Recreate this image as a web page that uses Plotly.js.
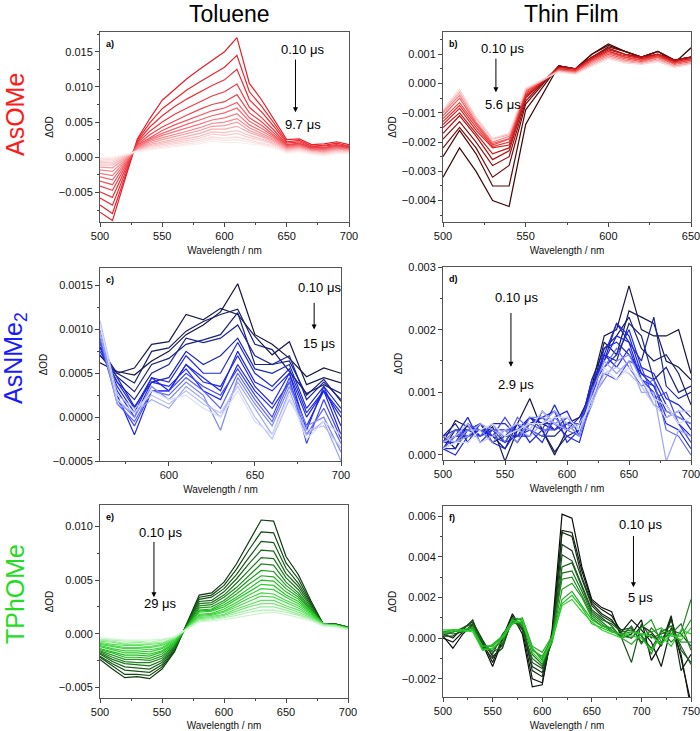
<!DOCTYPE html>
<html>
<head>
<meta charset="utf-8">
<script src="https://cdn.plot.ly/plotly-3.0.1.min.js"></script>
<style>
  html, body { margin: 0; padding: 0; background: #ffffff; }
  #chart { width: 700px; height: 731px; }
</style>
</head>
<body>
<div id="chart"></div>
<script>
// ---------- Transient absorption spectra (ΔOD vs wavelength) ----------

// a) AsOMe in toluene, 0.10 µs -> 9.7 µs
const wlTolAsOMe = [500,510,530,540,550,560,570,580,590,600,610,620,630,640,650,660,670,680,690,700];
const odTolAsOMe = [
  [-0.0078,-0.0090,0.0026,0.0055,0.0081,0.0097,0.0112,0.0125,0.0138,0.0150,0.0170,0.0105,0.0081,0.0053,0.0025,0.0026,0.0018,0.0019,0.0022,0.0018],
  [-0.0068,-0.0080,0.0024,0.0049,0.0069,0.0083,0.0096,0.0107,0.0118,0.0128,0.0145,0.0093,0.0072,0.0048,0.0022,0.0024,0.0016,0.0017,0.0020,0.0016],
  [-0.0058,-0.0068,0.0022,0.0043,0.0059,0.0072,0.0083,0.0093,0.0102,0.0110,0.0125,0.0082,0.0064,0.0043,0.0020,0.0022,0.0015,0.0016,0.0018,0.0015],
  [-0.0049,-0.0057,0.0020,0.0037,0.0050,0.0061,0.0070,0.0079,0.0087,0.0093,0.0104,0.0071,0.0056,0.0038,0.0018,0.0020,0.0014,0.0014,0.0017,0.0014],
  [-0.0041,-0.0047,0.0018,0.0032,0.0043,0.0052,0.0060,0.0068,0.0075,0.0079,0.0089,0.0063,0.0050,0.0034,0.0017,0.0019,0.0013,0.0013,0.0016,0.0013],
  [-0.0034,-0.0039,0.0017,0.0028,0.0038,0.0046,0.0053,0.0060,0.0066,0.0070,0.0078,0.0056,0.0045,0.0031,0.0016,0.0018,0.0012,0.0012,0.0015,0.0012],
  [-0.0028,-0.0032,0.0015,0.0026,0.0034,0.0041,0.0047,0.0053,0.0059,0.0063,0.0070,0.0051,0.0041,0.0029,0.0015,0.0017,0.0011,0.0011,0.0014,0.0012],
  [-0.0023,-0.0026,0.0014,0.0024,0.0031,0.0036,0.0042,0.0047,0.0053,0.0056,0.0062,0.0046,0.0037,0.0027,0.0014,0.0016,0.0010,0.0010,0.0013,0.0011],
  [-0.0018,-0.0020,0.0012,0.0022,0.0028,0.0032,0.0037,0.0042,0.0048,0.0050,0.0055,0.0042,0.0034,0.0025,0.0013,0.0015,0.0010,0.0009,0.0012,0.0010],
  [-0.0014,-0.0015,0.0011,0.0020,0.0025,0.0029,0.0033,0.0038,0.0044,0.0045,0.0050,0.0038,0.0031,0.0023,0.0012,0.0014,0.0009,0.0008,0.0011,0.0010],
  [-0.0011,-0.0011,0.0010,0.0018,0.0022,0.0026,0.0030,0.0034,0.0040,0.0040,0.0044,0.0035,0.0029,0.0021,0.0011,0.0013,0.0008,0.0007,0.0010,0.0009],
  [-0.0008,-0.0008,0.0010,0.0016,0.0020,0.0023,0.0027,0.0030,0.0036,0.0035,0.0038,0.0031,0.0026,0.0019,0.0010,0.0012,0.0008,0.0006,0.0009,0.0008],
  [-0.0006,-0.0005,0.0009,0.0015,0.0018,0.0021,0.0024,0.0027,0.0033,0.0031,0.0034,0.0028,0.0024,0.0018,0.0009,0.0011,0.0007,0.0005,0.0008,0.0007],
  [-0.0004,-0.0003,0.0009,0.0013,0.0016,0.0019,0.0021,0.0024,0.0029,0.0027,0.0029,0.0025,0.0021,0.0016,0.0008,0.0010,0.0006,0.0004,0.0007,0.0007],
  [-0.0002,-0.0001,0.0008,0.0012,0.0014,0.0017,0.0019,0.0021,0.0026,0.0024,0.0025,0.0022,0.0019,0.0015,0.0007,0.0009,0.0005,0.0003,0.0006,0.0006],
  [-0.0001,0.0000,0.0008,0.0011,0.0013,0.0015,0.0017,0.0019,0.0023,0.0021,0.0021,0.0019,0.0017,0.0013,0.0006,0.0008,0.0004,0.0002,0.0005,0.0005]
];
const delaysTolAsOMe = ['0.10 μs', '9.7 μs'];

// b) AsOMe thin film, 0.10 µs -> 5.6 µs
const wlFilmAsOMe = [500,510,520,530,540,550,570,580,590,600,610,620,630,640,650];
const odFilmAsOMe = [
  [-0.0032,-0.0022,-0.0030,-0.0040,-0.0042,-0.0014,0.0006,0.0005,0.0010,0.00135,0.0011,0.0009,0.0011,0.0007,0.00122],
  [-0.0025,-0.0016,-0.0024,-0.0035,-0.0035,-0.0009,0.0006,0.0005,0.0010,0.0013,0.0011,0.0009,0.0011,0.0008,0.0009],
  [-0.0022,-0.0015,-0.0022,-0.0032,-0.0028,-0.0007,0.0006,0.0005,0.0009,0.00125,0.0011,0.0009,0.0011,0.0008,0.0009],
  [-0.0019,-0.0013,-0.0020,-0.0028,-0.0025,-0.0006,0.0006,0.0005,0.0009,0.0012,0.0010,0.0009,0.0010,0.0008,0.0009],
  [-0.0017,-0.0011,-0.0018,-0.0026,-0.0023,-0.0005,0.00055,0.0005,0.0009,0.0012,0.0010,0.0009,0.0010,0.0008,0.0009],
  [-0.0015,-0.0010,-0.0017,-0.0024,-0.0022,-0.00045,0.00055,0.0005,0.00085,0.00115,0.0010,0.00085,0.0010,0.00075,0.00085],
  [-0.0014,-0.00085,-0.0016,-0.0022,-0.0021,-0.0004,0.0005,0.00045,0.00085,0.0011,0.00095,0.00085,0.00095,0.00075,0.00085],
  [-0.0013,-0.00075,-0.0015,-0.00215,-0.0020,-0.00035,0.0005,0.00045,0.0008,0.0011,0.0009,0.0008,0.00095,0.0007,0.0008],
  [-0.0012,-0.00065,-0.0014,-0.0021,-0.0019,-0.0003,0.00048,0.0004,0.0008,0.00105,0.0009,0.0008,0.0009,0.0007,0.0008],
  [-0.0011,-0.0005,-0.00135,-0.00205,-0.00188,-0.00026,0.00046,0.0004,0.00075,0.0010,0.00085,0.00075,0.0009,0.00065,0.00075],
  [-0.0010,-0.0004,-0.0013,-0.0020,-0.0018,-0.00023,0.00044,0.00038,0.0007,0.00095,0.0008,0.0007,0.00085,0.0006,0.0007],
  [-0.00095,-0.0003,-0.0012,-0.0019,-0.00175,-0.0002,0.00042,0.00035,0.00065,0.0009,0.00075,0.0007,0.0008,0.0006,0.0007],
  [-0.0009,-0.0002,-0.00115,-0.00188,-0.0017,-0.00017,0.0004,0.00032,0.0006,0.00085,0.0007,0.00065,0.00075,0.00055,0.00065]
];
const delaysFilmAsOMe = ['0.10 μs', '5.6 μs'];

// c) AsNMe2 in toluene, 0.10 µs -> 15 µs
const wlTolAsNMe2 = [560,570,580,590,600,610,620,630,640,650,660,670,680,690,700];
const odTolAsNMe2 = [
  [0.00062,0.00052,0.00048,0.00064,0.00075,0.00094,0.00105,0.0012,0.00152,0.00094,0.00083,0.00067,0.00046,0.00056,0.0005],
  [0.00070,0.00050,0.00056,0.00083,0.00086,0.00117,0.00111,0.00124,0.00117,0.00092,0.00071,0.00086,0.00037,0.00045,0.00039],
  [0.00079,0.00050,0.00039,0.00075,0.00079,0.00098,0.00109,0.00117,0.00123,0.00083,0.00077,0.00052,0.00027,0.00037,0.00027],
  [0.00071,0.00046,0.00029,0.00060,0.00067,0.00083,0.00088,0.00094,0.00119,0.00060,0.00060,0.00064,0.00025,0.00043,0.00018],
  [0.0008,0.0004,0.0002,0.0005,0.0006,0.0009,0.00085,0.0009,0.00105,0.0007,0.0006,0.0007,0.0002,0.0004,0.0002],
  [0.00085,0.00045,0.00012,0.0004,0.00045,0.00075,0.0006,0.0007,0.0009,0.00055,0.0005,0.0006,0.0001,0.00035,0.0001],
  [0.00075,0.0004,0.0001,0.00045,0.0004,0.0007,0.0005,0.0005,0.00085,0.0005,0.00035,0.00055,0.00005,0.0003,0.00005],
  [0.0008,0.00035,0.00005,0.00045,0.0003,0.0006,0.00045,0.0003,0.00075,0.0004,0.0003,0.0005,0.0000,0.0003,0.0000],
  [0.0009,0.00025,-0.0002,0.0003,0.0003,0.0006,0.0004,0.00035,0.0007,0.00035,0.00015,0.0005,-0.00015,0.00035,-0.0001],
  [0.0008,0.0003,0.0000,0.0004,0.00035,0.00055,0.0003,0.0002,0.0006,0.0003,0.0001,0.0004,-0.0001,0.0003,-0.0002],
  [0.00085,0.0002,-0.0001,0.0003,0.0003,0.0005,0.00035,0.00025,0.00055,0.00025,0.0000,0.00045,-0.0003,0.0002,-0.00025],
  [0.0009,0.00015,-0.00005,0.0003,0.00025,0.00045,0.0003,0.0001,0.0005,0.0002,-0.00005,0.0004,-0.0002,0.0001,-0.0003],
  [0.0010,0.0002,0.0000,0.00035,0.0002,0.0004,0.00025,-0.00015,0.00045,0.00015,-0.0001,0.00035,-0.0001,0.0000,-0.0004],
  [0.00095,0.00015,0.00005,0.0002,0.0001,0.00035,0.0002,0.0000,0.0004,0.0001,-0.0002,0.0003,-0.0002,-0.00005,-0.0005],
  [0.0011,0.00025,0.0001,0.00025,0.00015,0.0003,0.00015,0.00005,0.00035,0.0000,-0.00025,0.0002,-0.00015,-0.0001,-0.00035],
  [0.00105,0.0002,0.00005,0.0003,0.0002,0.00025,0.0001,0.0000,0.0003,-0.00005,-0.0002,0.00025,-0.00025,-0.00005,-0.0002]
];
const delaysTolAsNMe2 = ['0.10 μs', '15 μs'];

// d) AsNMe2 thin film, 0.10 µs -> 2.9 µs
const wlFilmAsNMe2 = [500,510,520,530,540,550,560,570,580,590,600,610,620,630,640,650,660,670,680,690,700];
const odFilmAsNMe2 = [
  [0.0002,0.00055,0.00045,0.0004,0.0003,0.0001,0.0005,0.0009,0.0004,0.0000,0.0004,0.0005,0.0011,0.0019,0.0020,0.0027,0.0020,0.0019,0.0019,0.0020,0.0013],
  [0.0003,0.0001,0.0005,0.0003,0.00045,-0.0001,0.0004,0.0006,0.0005,0.0004,0.0005,0.0006,0.0010,0.0018,0.0016,0.0023,0.0022,0.0021,0.0015,0.0014,0.0012],
  [0.0001,0.0004,0.0004,0.0005,0.0002,0.0003,0.0003,0.0006,0.0004,0.00005,0.0003,0.0004,0.0012,0.0017,0.0019,0.0022,0.0017,0.0015,0.0016,0.0013,0.0008],
  [0.0002,0.0003,0.0003,0.0004,0.0004,0.0002,0.0005,0.0004,0.0003,0.0003,0.0005,0.0003,0.0011,0.0016,0.0015,0.0021,0.0019,0.0012,0.0014,0.0010,0.0011],
  [0.0003,0.0005,0.0002,0.0005,0.0003,0.0004,0.0002,0.0005,0.0006,0.0004,0.0006,0.0004,0.0010,0.0015,0.0021,0.0018,0.0015,0.0022,0.0011,0.0009,0.0010],
  [0.0001,0.0001,0.0004,0.0003,0.0005,0.0005,0.0003,0.0003,0.0007,0.0005,0.0004,0.0006,0.0009,0.0017,0.0018,0.0016,0.0013,0.0011,0.0007,0.0006,0.0005],
  [0.0002,0.0003,0.0006,0.0002,0.0004,0.0003,0.0005,0.0002,0.0004,0.0008,0.0004,0.0005,0.0011,0.0014,0.0016,0.0020,0.0014,0.0013,0.0009,0.0008,0.0006],
  [0.0003,0.0004,0.0003,0.0004,0.0002,0.0001,0.0004,0.0005,0.0006,0.0007,0.0002,0.0004,0.0012,0.0015,0.0019,0.0018,0.0012,0.0010,0.0005,0.0004,0.0001],
  [0.0001,0.0000,0.0003,0.0004,0.0003,0.0002,0.0003,0.0004,0.0002,0.0006,0.0007,0.0003,0.0010,0.0016,0.0021,0.0019,0.0013,0.0012,0.0008,0.0005,0.0003],
  [0.0002,0.0002,0.0005,0.0003,0.0004,0.0004,0.0004,0.0006,0.0005,0.0005,0.0003,0.0002,0.0009,0.0016,0.0014,0.0017,0.0012,0.0011,0.0006,0.0007,0.0004],
  [0.0001,0.0003,0.0004,0.0005,0.0003,0.0006,0.0003,0.0005,0.0004,0.0004,0.0005,0.0005,0.0010,0.0013,0.0012,0.0015,0.0014,0.0009,0.0010,0.0005,0.0002],
  [0.0002,0.0004,0.0003,0.0003,0.0005,0.0002,0.0006,0.0004,0.0003,0.0006,0.0004,0.0003,0.0008,0.0014,0.0017,0.0014,0.0011,0.0012,0.0004,0.0003,0.0000],
  [0.0001,0.0002,0.0004,0.0004,0.0002,0.0004,0.0002,0.0006,0.0006,0.0005,0.0006,0.0004,0.0009,0.0012,0.0015,0.0016,0.0012,0.0008,0.0007,0.0006,0.0005],
  [0.0003,0.0002,0.0003,0.0005,0.0004,0.0003,0.0004,0.0003,0.0005,0.0007,0.0005,0.0003,0.0010,0.0015,0.0013,0.0015,0.0010,0.0010,-0.0001,0.0004,0.0003],
  [0.0002,0.0003,0.0005,0.0002,0.0003,0.0004,0.0005,0.0004,0.0007,0.0005,0.0004,0.0005,0.0008,0.0013,0.0014,0.0013,0.0011,0.0008,0.0006,0.0007,0.0007],
  [0.0001,0.0002,0.0002,0.0004,0.0005,0.0003,0.0004,0.0005,0.0005,0.0006,0.0006,0.0004,0.0009,0.0014,0.0012,0.0014,0.0012,0.0009,0.0008,0.0005,0.0006]
];
const delaysFilmAsNMe2 = ['0.10 μs', '2.9 μs'];

// e) TPhOMe in toluene, 0.10 µs -> 29 µs
const wlTolTPhOMe = [500,510,520,530,540,550,560,580,590,600,610,620,630,640,650,660,670,680,690,700];
const odTolTPhOMe = [
  [-0.0024,-0.0033,-0.0041,-0.0040,-0.0042,-0.0033,-0.0017,0.0036,0.0038,0.0048,0.0065,0.0085,0.0106,0.0105,0.0072,0.0055,0.0031,0.0009,0.0009,0.0006],
  [-0.0022,-0.0030,-0.0038,-0.0038,-0.0039,-0.0031,-0.0016,0.0034,0.0036,0.0045,0.0060,0.0078,0.0095,0.0094,0.0066,0.0051,0.0029,0.0009,0.0009,0.0006],
  [-0.0021,-0.0028,-0.0034,-0.0035,-0.0036,-0.0029,-0.0015,0.0032,0.0034,0.0042,0.0055,0.0071,0.0086,0.0085,0.0061,0.0047,0.0028,0.0009,0.0009,0.0006],
  [-0.0019,-0.0026,-0.0031,-0.0032,-0.0033,-0.0027,-0.0014,0.0030,0.0031,0.0039,0.0051,0.0065,0.0078,0.0077,0.0056,0.0044,0.0026,0.0009,0.0009,0.0006],
  [-0.0018,-0.0024,-0.0028,-0.0029,-0.0030,-0.0025,-0.0013,0.0028,0.0029,0.0036,0.0047,0.0059,0.0071,0.0070,0.0052,0.0041,0.0025,0.0009,0.0009,0.0006],
  [-0.0017,-0.0022,-0.0026,-0.0027,-0.0027,-0.0023,-0.0012,0.0026,0.0027,0.0034,0.0043,0.0054,0.0065,0.0064,0.0048,0.0038,0.0024,0.0009,0.0008,0.0006],
  [-0.0016,-0.0020,-0.0024,-0.0024,-0.0025,-0.0021,-0.0011,0.0024,0.0025,0.0031,0.0040,0.0050,0.0059,0.0058,0.0045,0.0036,0.0023,0.0009,0.0008,0.0006],
  [-0.0015,-0.0018,-0.0022,-0.0022,-0.0023,-0.0019,-0.0010,0.0022,0.0023,0.0029,0.0037,0.0046,0.0054,0.0053,0.0042,0.0034,0.0022,0.0009,0.0008,0.0005],
  [-0.0014,-0.0017,-0.0020,-0.0020,-0.0021,-0.0017,-0.0009,0.0021,0.0022,0.0027,0.0034,0.0042,0.0050,0.0049,0.0039,0.0032,0.0021,0.0009,0.0008,0.0005],
  [-0.0012,-0.0015,-0.0018,-0.0018,-0.0019,-0.0016,-0.0008,0.0020,0.0021,0.0025,0.0032,0.0039,0.0046,0.0045,0.0036,0.0030,0.0020,0.0009,0.0008,0.0005],
  [-0.0011,-0.0014,-0.0016,-0.0016,-0.0017,-0.0014,-0.0007,0.0018,0.0019,0.0023,0.0029,0.0036,0.0042,0.0041,0.0034,0.0028,0.0019,0.0009,0.0008,0.0005],
  [-0.0010,-0.0012,-0.0014,-0.0014,-0.0015,-0.0013,-0.0006,0.0017,0.0018,0.0021,0.0027,0.0033,0.0038,0.0037,0.0031,0.0026,0.0018,0.0009,0.0008,0.0005],
  [-0.0009,-0.0011,-0.0013,-0.0013,-0.0013,-0.0011,-0.0006,0.0016,0.0017,0.0020,0.0025,0.0030,0.0035,0.0034,0.0029,0.0024,0.0017,0.0009,0.0008,0.0005],
  [-0.0008,-0.0010,-0.0011,-0.0011,-0.0012,-0.0010,-0.0005,0.0015,0.0016,0.0018,0.0023,0.0027,0.0031,0.0031,0.0026,0.0022,0.0016,0.0008,0.0007,0.0005],
  [-0.0007,-0.0008,-0.0010,-0.0010,-0.0010,-0.0009,-0.0004,0.0014,0.0015,0.0017,0.0021,0.0025,0.0028,0.0028,0.0024,0.0020,0.0015,0.0008,0.0007,0.0004],
  [-0.0006,-0.0007,-0.0009,-0.0008,-0.0009,-0.0008,-0.0004,0.0013,0.0014,0.0016,0.0019,0.0022,0.0025,0.0025,0.0022,0.0018,0.0014,0.0008,0.0007,0.0004],
  [-0.0005,-0.0006,-0.0007,-0.0007,-0.0008,-0.0006,-0.0003,0.0012,0.0013,0.0015,0.0017,0.0020,0.0022,0.0022,0.0020,0.0017,0.0013,0.0008,0.0007,0.0004],
  [-0.0004,-0.0005,-0.0006,-0.0006,-0.0006,-0.0005,-0.0003,0.0011,0.0012,0.0013,0.0015,0.0017,0.0019,0.0020,0.0018,0.0015,0.0012,0.0007,0.0006,0.0004]
];
const delaysTolTPhOMe = ['0.10 μs', '29 μs'];

// f) TPhOMe thin film, 0.10 µs -> 5 µs
const wlFilmTPhOMe = [500,510,520,530,540,550,560,570,580,590,600,610,620,630,640,650,660,670,680,690,700,710,720,730,740,750];
const odFilmTPhOMe = [
  [0.0001,-0.0005,0.0002,0.0007,-0.0003,-0.0014,-0.0001,0.0011,0.0002,-0.0024,-0.0023,0.0004,0.0061,0.0059,0.0035,0.0019,0.0015,0.0013,0.0000,0.0002,0.0009,-0.0011,-0.0003,0.0010,-0.0010,-0.0032],
  [0.0000,-0.0002,0.0003,0.0006,-0.0002,-0.0012,0.0000,0.0012,0.0004,-0.0020,-0.0022,0.0002,0.0053,0.0052,0.0033,0.0018,0.0014,0.0011,0.0003,0.0009,0.0004,-0.0002,-0.0014,0.0005,-0.0008,-0.0035],
  [0.0002,0.0000,0.0005,0.0008,-0.0001,-0.0009,-0.0005,0.0010,0.0006,-0.0016,-0.0019,0.0001,0.0052,0.0050,0.0030,0.0017,0.0012,0.0009,0.0002,0.0000,0.0006,0.0003,-0.0003,0.0011,-0.0016,-0.0008],
  [0.0001,0.0001,0.0004,0.0009,-0.0004,-0.0010,-0.0003,0.0009,0.0005,-0.0014,-0.0017,0.0000,0.0046,0.0043,0.0029,0.0016,0.0011,0.0008,0.0004,0.0005,-0.0002,0.0002,-0.0004,0.0009,-0.0006,-0.0012],
  [0.0003,0.0002,0.0003,0.0006,-0.0003,-0.0008,0.0002,0.0008,0.0007,-0.0012,-0.0015,-0.0002,0.0041,0.0038,0.0026,0.0014,0.0010,0.0006,0.0000,-0.0012,0.0007,0.0000,0.0002,0.0004,0.0002,-0.0004],
  [0.0002,0.0003,0.0005,0.0007,-0.0002,-0.0007,-0.0004,0.0009,0.0004,-0.0010,-0.0014,-0.0001,0.0035,0.0037,0.0025,0.0013,0.0009,0.0007,0.0003,0.0004,0.0001,-0.0005,0.0003,0.0006,-0.0004,-0.0013],
  [0.0001,0.0003,0.0004,0.0005,-0.0005,-0.0006,0.0000,0.0007,0.0008,-0.0008,-0.0013,0.0000,0.0032,0.0033,0.0023,0.0012,0.0008,0.0004,0.0001,0.0006,-0.0003,0.0005,0.0000,0.0002,0.0007,-0.0006],
  [0.0003,0.0004,0.0003,0.0006,-0.0004,-0.0004,0.0001,0.0009,0.0006,-0.0005,-0.0011,0.0001,0.0029,0.0030,0.0021,0.0011,0.0007,0.0003,0.0002,0.0003,0.0002,-0.0008,0.0004,-0.0002,0.0003,0.0019],
  [0.0002,0.0004,0.0004,0.0004,-0.0005,-0.0005,-0.0002,0.0010,0.0009,-0.0006,-0.0009,0.0000,0.0024,0.0027,0.0020,0.0010,0.0006,0.0005,0.0001,0.0000,0.0005,0.0009,-0.0002,0.0004,-0.0002,-0.0002],
  [0.0003,0.0003,0.0004,0.0005,-0.0006,-0.0003,0.0001,0.0008,0.0010,-0.0004,-0.0007,0.0001,0.0019,0.0023,0.0016,0.0009,0.0006,0.0004,0.0000,-0.0003,0.0002,0.0003,0.0005,0.0001,0.0001,0.0009],
  [0.0002,0.0004,0.0003,0.0004,-0.0004,-0.0004,0.0001,0.0009,0.0007,-0.0005,-0.0010,-0.0002,0.0017,0.0021,0.0015,0.0007,0.0005,0.0003,0.0002,0.0001,0.0000,-0.0006,0.0001,-0.0004,0.0004,0.0002],
  [0.0004,0.0004,0.0004,0.0003,-0.0006,-0.0005,0.0000,0.0007,0.0009,-0.0007,-0.0012,0.0000,0.0016,0.0019,0.0013,0.0008,0.0004,0.0002,0.0000,0.0003,0.0002,0.0001,-0.0003,0.0002,-0.0001,0.0005]
];
const delaysFilmTPhOMe = ['0.10 μs', '5 μs'];

// ---------- styling helpers ----------
const FONT = 'Arial, "Liberation Sans", Helvetica, sans-serif';

function hexToRgb(h) {
  const v = parseInt(h.slice(1), 16);
  return [(v >> 16) & 255, (v >> 8) & 255, v & 255];
}
// colour ramp across a list of stops, one colour per spectrum (early -> late delay)
function ramp(stops, n) {
  const rgb = stops.map(hexToRgb);
  const out = [];
  for (let i = 0; i < n; i++) {
    const t = n === 1 ? 0 : i / (n - 1);
    const seg = Math.min(rgb.length - 2, Math.floor(t * (rgb.length - 1)));
    const f = t * (rgb.length - 1) - seg;
    const a = rgb[seg], b = rgb[seg + 1];
    const c = a.map((v, k) => Math.round(v + (b[k] - v) * f));
    out.push(`rgb(${c[0]},${c[1]},${c[2]})`);
  }
  return out;
}

const panels = [
  { wl: wlTolAsOMe,  od: odTolAsOMe,  delays: delaysTolAsOMe,  tag: 'a)', xs: '',  stops: ['#e61e26', '#ef4048', '#f47f84', '#f9c2c4', '#fdeeee'] },
  { wl: wlFilmAsOMe, od: odFilmAsOMe, delays: delaysFilmAsOMe, tag: 'b)', xs: '2', stops: ['#3a0606', '#8e0e0e', '#e01e1e', '#f25a5a', '#fbd0d0'] },
  { wl: wlTolAsNMe2, od: odTolAsNMe2, delays: delaysTolAsNMe2, tag: 'c)', xs: '3', stops: ['#15153f', '#1a237a', '#1e2ad8', '#1f25f0', '#7d88f0', '#d9def9'] },
  { wl: wlFilmAsNMe2,od: odFilmAsNMe2,delays: delaysFilmAsNMe2,tag: 'd)', xs: '4', stops: ['#15153f', '#1a237a', '#1e2ad8', '#1f25f0', '#7d88f0', '#d9def9'] },
  { wl: wlTolTPhOMe, od: odTolTPhOMe, delays: delaysTolTPhOMe, tag: 'e)', xs: '5', stops: ['#0e3a0e', '#1c7a1c', '#22c722', '#5ae05a', '#cff6cf'] },
  { wl: wlFilmTPhOMe,od: odFilmTPhOMe,delays: delaysFilmTPhOMe,tag: 'f)', xs: '6', stops: ['#0a0a0a', '#1a4a1a', '#1c8c1c', '#2ad42a'] }
];

const traces = [];
panels.forEach(p => {
  const colors = ramp(p.stops, p.od.length);
  p.od.forEach((spec, i) => {
    traces.push({
      type: 'scatter', mode: 'lines',
      x: p.wl, y: spec,
      xaxis: 'x' + p.xs, yaxis: 'y' + p.xs,
      line: { color: colors[i], width: 1.2 },
      hoverinfo: 'skip', showlegend: false
    });
  });
});

// ---------- axes ----------
const W = 700, H = 731;
const px = v => v / W;
const py = v => 1 - v / H;

function xAxis(l, r, range, dtick, anchor) {
  return {
    domain: [px(l), px(r)], range: range, anchor: anchor,
    tick0: 500, dtick: dtick, ticks: 'outside', ticklen: 4, tickwidth: 1, tickcolor: '#444',
    minor: { ticks: 'outside', ticklen: 2, dtick: dtick / 2, tickcolor: '#444', tickwidth: 1 },
    showline: true, linecolor: '#555', linewidth: 1, mirror: true,
    showgrid: false, zeroline: false, ticklabeloverflow: 'allow',
    tickfont: { family: FONT, size: 11, color: '#111' },
    title: { text: 'Wavelength / nm', font: { family: FONT, size: 10, color: '#111' }, standoff: 5 }
  };
}
function yAxis(top, bottom, range, dtick, fmt, anchor) {
  return {
    domain: [py(bottom), py(top)], range: range, anchor: anchor,
    tick0: 0, dtick: dtick, tickformat: fmt, ticks: 'outside', ticklen: 4, tickwidth: 1, tickcolor: '#444',
    minor: { ticks: 'outside', ticklen: 2, dtick: dtick / 2, tickcolor: '#444', tickwidth: 1 },
    showline: true, linecolor: '#555', linewidth: 1, mirror: true,
    showgrid: false, zeroline: false,
    tickfont: { family: FONT, size: 11, color: '#111' },
    title: { text: 'ΔOD', font: { family: FONT, size: 10, color: '#111' }, standoff: 3 }
  };
}

const layout = {
  width: W, height: H,
  margin: { l: 0, r: 0, t: 0, b: 0 },
  paper_bgcolor: '#ffffff', plot_bgcolor: '#ffffff',
  showlegend: false,
  font: { family: FONT, color: '#111' },
  xaxis:  xAxis(100, 349, [500, 700], 50, 'y'),
  yaxis:  yAxis(32, 222, [-0.0092, 0.0178], 0.005, '.3f', 'x'),
  xaxis2: xAxis(443, 691, [500, 650], 50, 'y2'),
  yaxis2: yAxis(32, 222, [-0.00473, 0.00176], 0.001, '.3f', 'x2'),
  xaxis3: xAxis(100, 341, [560, 700], 50, 'y3'),
  yaxis3: yAxis(268, 461, [-0.0005, 0.0017], 0.0005, '.4f', 'x3'),
  xaxis4: xAxis(443, 691, [500, 700], 50, 'y4'),
  yaxis4: yAxis(267, 460, [-0.00008, 0.003], 0.001, '.3f', 'x4'),
  xaxis5: xAxis(100, 348, [500, 700], 50, 'y5'),
  yaxis5: yAxis(505, 698, [-0.006, 0.012], 0.005, '.3f', 'x5'),
  xaxis6: xAxis(443, 691, [500, 750], 50, 'y6'),
  yaxis6: yAxis(506, 697, [-0.0029, 0.0065], 0.002, '.3f', 'x6'),
  annotations: []
};

const ann = layout.annotations;

// column headings
ann.push({ text: 'Toluene', xref: 'paper', yref: 'paper', x: px(229), y: 1, xanchor: 'center', yanchor: 'top',
  borderpad: 0, showarrow: false, font: { family: FONT, size: 23, color: '#000' } });
ann.push({ text: 'Thin Film', xref: 'paper', yref: 'paper', x: px(571), y: 1, xanchor: 'center', yanchor: 'top',
  borderpad: 0, showarrow: false, font: { family: FONT, size: 23, color: '#000' } });

// row headings (compounds)
ann.push({ text: 'AsOMe', xref: 'paper', yref: 'paper', x: px(15), y: py(115), textangle: -90, xanchor: 'center', yanchor: 'middle',
  showarrow: false, font: { family: FONT, size: 25, color: '#ff1a1a' } });
ann.push({ text: 'AsNMe<sub>2</sub>', xref: 'paper', yref: 'paper', x: px(15), y: py(358), textangle: -90, xanchor: 'center', yanchor: 'middle',
  showarrow: false, font: { family: FONT, size: 25, color: '#1a1aff' } });
ann.push({ text: 'TPhOMe', xref: 'paper', yref: 'paper', x: px(15), y: py(594), textangle: -90, xanchor: 'center', yanchor: 'middle',
  showarrow: false, font: { family: FONT, size: 25, color: '#22dd22' } });

// delay arrows and their labels (in each panel's data coordinates)
const arrows = [
  { x: 657,   y0: 0.0141,  y1: 0.0064,  tx: 663,   ty0: 0.0153,  ty1: 0.0046 },
  { x: 532,   y0: 0.0009,  y1: -0.0003, tx: 536,   ty0: 0.00121, ty1: -0.0007 },
  { x: 684.4, y0: 0.00132, y1: 0.0010,  tx: 687.7, ty0: 0.00148, ty1: 0.00084 },
  { x: 554.8, y0: 0.00229, y1: 0.00141, tx: 559,   ty0: 0.00252, ty1: 0.00112 },
  { x: 543.5, y0: 0.0087,  y1: 0.0034,  tx: 549,   ty0: 0.00947, ty1: 0.0028 },
  { x: 692,   y0: 0.0051,  y1: 0.0025,  tx: 698.6, ty0: 0.00561, ty1: 0.00198 }
];

panels.forEach((p, i) => {
  const a = arrows[i];
  const xr = 'x' + p.xs, yr = 'y' + p.xs;
  ann.push({ text: '<b>' + p.tag + '</b>', xref: xr + ' domain', yref: yr + ' domain', x: 0.015, y: 0.975,
    xanchor: 'left', yanchor: 'top', showarrow: false, font: { family: FONT, size: 9, color: '#000' } });
  ann.push({ text: p.delays[0], xref: xr, yref: yr, x: a.tx, y: a.ty0, xanchor: 'center', yanchor: 'middle',
    showarrow: false, font: { family: FONT, size: 13, color: '#000' } });
  ann.push({ text: p.delays[1], xref: xr, yref: yr, x: a.tx, y: a.ty1, xanchor: 'center', yanchor: 'middle',
    showarrow: false, font: { family: FONT, size: 13, color: '#000' } });
  ann.push({ text: '', xref: xr, yref: yr, x: a.x, y: a.y1, axref: xr, ayref: yr, ax: a.x, ay: a.y0,
    showarrow: true, arrowhead: 2, arrowsize: 1, arrowwidth: 1, arrowcolor: '#000' });
});

Plotly.newPlot('chart', traces, layout, { displayModeBar: false, staticPlot: true });
</script>
</body>
</html>
